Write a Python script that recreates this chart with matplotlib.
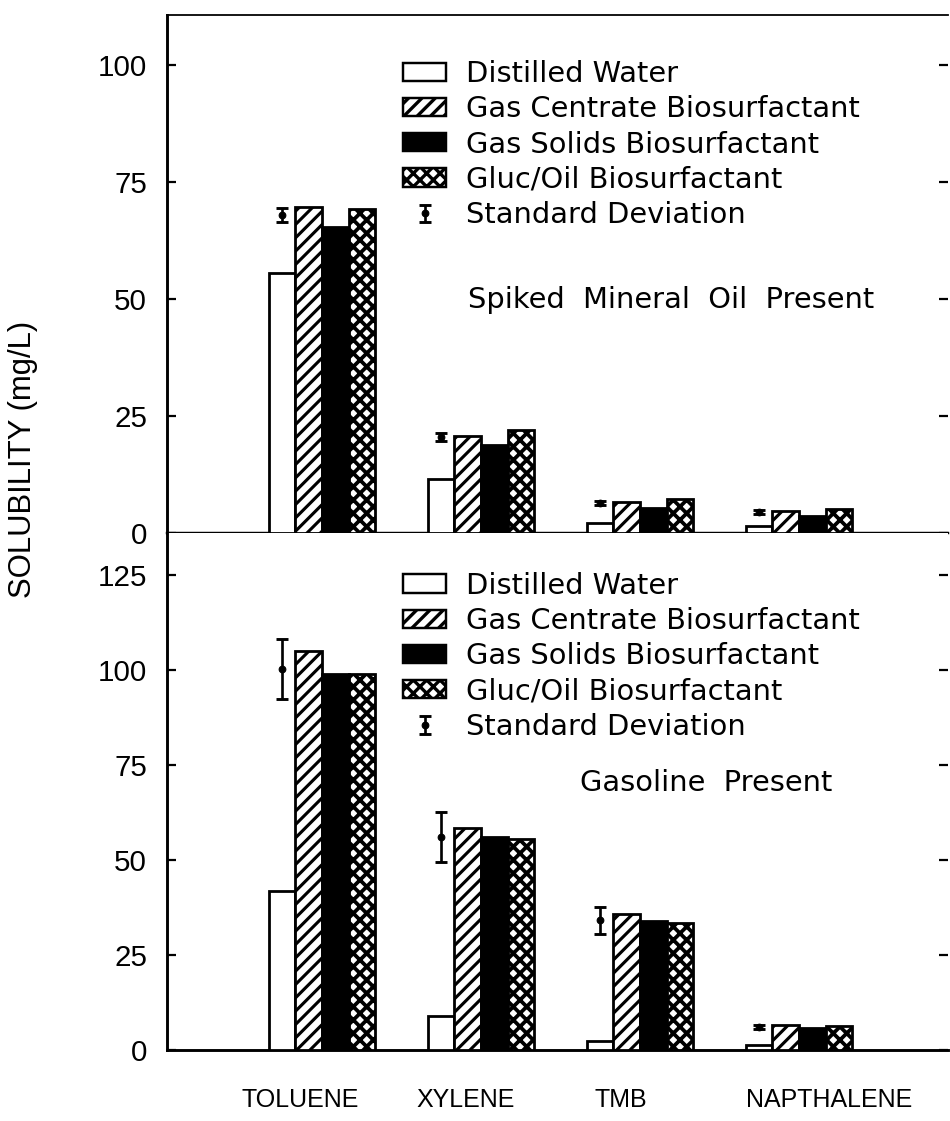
import matplotlib
matplotlib.use("Agg")
import matplotlib.pyplot as plt
import numpy as np
from matplotlib.patches import Patch
from matplotlib.container import ErrorbarContainer
from matplotlib.legend_handler import HandlerErrorbar
from matplotlib import font_manager as fm

# ---------------- data ----------------
compounds = ["TOLUENE", "XYLENE", "TMB", "NAPTHALENE"]
series_names = ["Distilled Water", "Gas Centrate Biosurfactant",
                "Gas Solids Biosurfactant", "Gluc/Oil Biosurfactant"]

# Spiked mineral oil present (top panel)
oil_water    = [55.6, 11.5, 2.1, 1.5]
oil_centrate = [69.7, 20.7, 6.6, 4.7]
oil_solids   = [65.4, 18.8, 5.3, 3.6]
oil_glucoil  = [69.2, 22.0, 7.3, 5.1]
oil_sd_mean  = [68.0, 20.5, 6.4, 4.5]
oil_sd       = [1.5, 0.8, 0.4, 0.4]

# Gasoline present (bottom panel)
gas_water    = [41.8, 8.9, 2.4, 1.3]
gas_centrate = [105.0, 58.4, 35.8, 6.6]
gas_solids   = [98.9, 56.0, 34.0, 5.8]
gas_glucoil  = [98.9, 55.5, 33.4, 6.3]
gas_sd_mean  = [100.3, 56.1, 34.1, 6.0]
gas_sd       = [7.9, 6.6, 3.5, 0.5]

top_ticks = [0, 25, 50, 75, 100]
bottom_ticks = [0, 25, 50, 75, 100, 125]

# ---------------- style ----------------
DPI = 80
W, H = 950, 1121


def pick(*names):
    for n in names:
        try:
            fm.findfont(fm.FontProperties(family=n), fallback_to_default=False)
            return n
        except Exception:
            pass
    return "DejaVu Sans"


num_font = pick("Liberation Sans", "DejaVu Sans")
leg_font = "DejaVu Sans"

plt.rcParams["hatch.linewidth"] = 3.0
plt.rcParams["font.family"] = num_font

fig = plt.figure(figsize=(W / DPI, H / DPI), dpi=DPI)
fig.patch.set_facecolor("white")


def frac_x(px):
    return px / W


def frac_y(py):
    return 1 - py / H


ax_left, ax_right = 167, 948
ax_top = fig.add_axes([frac_x(ax_left), frac_y(533), (ax_right - ax_left) / W, (533 - 15) / H])
ax_bot = fig.add_axes([frac_x(ax_left), frac_y(1050), (ax_right - ax_left) / W, (1050 - 533) / H])

bar_w = 0.167
styles = [
    dict(facecolor="white", hatch=None),
    dict(facecolor="white", hatch="//"),
    dict(facecolor="black", hatch=None),
    dict(facecolor="white", hatch="xx"),
]
hatch_lw = [0, 2.8, 0, 3.4]

x = np.arange(len(compounds))


def set_hlw(p, lw):
    try:
        p.set_hatch_linewidth(lw)
    except Exception:
        pass


def draw_panel(ax, vals, sd_mean, sd, ymax, ticks, legend_top, note, note_xy):
    for i, (v, st) in enumerate(zip(vals, styles)):
        bars = ax.bar(x + (i - 1.5) * bar_w, v, width=bar_w, edgecolor="black",
                      linewidth=2.5, zorder=3, **st)
        for b in bars:
            set_hlw(b, hatch_lw[i])
    eb = ax.errorbar(x - 1.5 * bar_w, sd_mean, yerr=sd, fmt="o", color="black",
                     ms=6, elinewidth=2.4, capsize=5, capthick=2.6, zorder=4)
    ax.set_xlim(-0.975, 3.937)
    ax.set_ylim(0, ymax)
    ax.set_yticks(ticks)
    ax.set_yticklabels([str(t) for t in ticks], fontsize=26.5, family=num_font)
    ax.tick_params(axis="y", direction="in", length=8, width=2, pad=18,
                   right=True, labelright=False)
    ax.spines["right"].set_visible(False)
    ax.spines["left"].set_linewidth(2.6)

    handles = []
    for i, st in enumerate(styles):
        p = Patch(edgecolor="black", linewidth=2.2, **st)
        set_hlw(p, hatch_lw[i])
        handles.append(p)
    handles.append(eb)
    ax.legend(handles, series_names + ["Standard Deviation"],
              loc="upper left", bbox_to_anchor=(0.302, legend_top),
              frameon=False, borderpad=0, borderaxespad=0,
              handlelength=1.5, handleheight=0.6, handletextpad=0.7,
              labelspacing=0.25, prop=dict(family=leg_font, size=26),
              handler_map={ErrorbarContainer: HandlerErrorbar(yerr_size=0.3)})
    ax.text(note_xy[0], note_xy[1], note, transform=ax.transAxes,
            ha="left", va="center", family=leg_font, fontsize=26)


draw_panel(ax_top, [oil_water, oil_centrate, oil_solids, oil_glucoil],
           oil_sd_mean, oil_sd, (533 - 15) / 4.68, top_ticks, 0.913,
           "Spiked  Mineral  Oil  Present", (0.385, 0.450))
draw_panel(ax_bot, [gas_water, gas_centrate, gas_solids, gas_glucoil],
           gas_sd_mean, gas_sd, (1050 - 533) / 3.8, bottom_ticks, 0.925,
           "Gasoline  Present", (0.529, 0.516))

# top panel spines / x axis
ax_top.spines["top"].set_linewidth(1.6)
ax_top.spines["bottom"].set_linewidth(2.2)
ax_top.set_xticks([])
ax_bot.spines["top"].set_visible(False)
ax_bot.spines["bottom"].set_linewidth(2.6)

label_offsets = [-0.138, -0.094, -0.119, 0.189]
ax_bot.set_xticks(x + np.array(label_offsets))
ax_bot.set_xticklabels(compounds, family=num_font, fontsize=22.5)
ax_bot.tick_params(axis="x", length=0, pad=34)

fig.text(frac_x(23), frac_y(459), "SOLUBILITY (mg/L)", rotation=90,
         ha="center", va="center", family=num_font, fontsize=28)

fig.savefig("out.png", dpi=DPI, facecolor="white")
